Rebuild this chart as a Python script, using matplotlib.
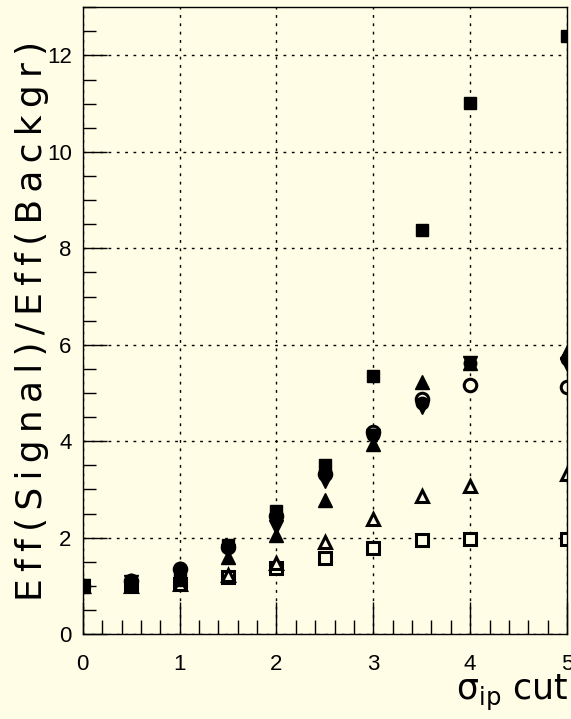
import numpy as np
import matplotlib
matplotlib.use("Agg")
import matplotlib.pyplot as plt
from matplotlib.ticker import MultipleLocator

# ----- data -----
x = [0, 0.5, 1, 1.5, 2, 2.5, 3, 3.5, 4, 5]
filled_square = [1.0, 1.05, 1.15, 1.85, 2.55, 3.5, 5.35, 8.37, 11.02, 12.4]
filled_circle = [1.0, 1.12, 1.38, 1.82, 2.47, 3.33, 4.12, 4.8, 5.62, 5.7]
filled_up = [1.0, 1.05, 1.15, 1.6, 2.05, 2.78, 3.95, 5.22, 5.62, 5.85]
filled_down = [1.0, 1.08, 1.25, 1.72, 2.22, 3.18, 4.1, 4.72, 5.62, 5.6]
open_circle = [1.0, 1.1, 1.35, 1.8, 2.45, 3.33, 4.2, 4.87, 5.17, 5.13]
open_square = [1.0, 1.0, 1.05, 1.18, 1.37, 1.57, 1.79, 1.95, 1.98, 1.98]
open_triangle = [1.0, 1.0, 1.05, 1.22, 1.47, 1.91, 2.38, 2.87, 3.07, 3.33]

ylabel = 'Eff(Signal)/Eff(Backgr)'

bg = '#fffde6'
tick_font = ['Liberation Sans Narrow', 'Liberation Sans', 'DejaVu Sans']

fig = plt.figure(figsize=(5.71, 7.19), dpi=100, facecolor=bg)
ax = fig.add_axes([0.145, 0.118, 0.848, 0.872], facecolor=bg)

# open markers first, filled ones on top
ax.plot(x, open_square, ls='none', marker='s', ms=8, mfc=bg, mec='black', mew=2.2)
ax.plot(x, open_triangle, ls='none', marker='^', ms=9, mfc=bg, mec='black', mew=2.2)
ax.plot(x, open_circle, ls='none', marker='o', ms=9, mfc=bg, mec='black', mew=2.2)
ax.plot(x, filled_square, ls='none', marker='s', ms=9, color='black')
ax.plot(x, filled_circle, ls='none', marker='o', ms=9, color='black')
ax.plot(x, filled_up, ls='none', marker='^', ms=10, color='black')
ax.plot(x, filled_down, ls='none', marker='v', ms=10, color='black')

ax.set_xlim(0, 5)
ax.set_ylim(0, 13)
ax.xaxis.set_major_locator(MultipleLocator(1))
ax.xaxis.set_minor_locator(MultipleLocator(0.2))
ax.yaxis.set_major_locator(MultipleLocator(2))
ax.yaxis.set_minor_locator(MultipleLocator(0.5))
ax.tick_params(axis='x', which='major', direction='in', length=23, width=1, pad=14, labelsize=16)
ax.tick_params(axis='x', which='minor', direction='in', length=10, width=1)
ax.tick_params(axis='y', which='major', direction='in', length=17, width=1, pad=8, labelsize=16)
ax.tick_params(axis='y', which='minor', direction='in', length=9, width=1)
for lab in ax.get_xticklabels() + ax.get_yticklabels():
    lab.set_family(tick_font)

ax.grid(True, which='major', color='black', linestyle=(0, (2, 4)), linewidth=1)
for s in ax.spines.values():
    s.set_linewidth(1)

# PAW spreads the letters out, thin spaces imitate that
ax.set_ylabel('\u2009'.join(ylabel), fontsize=26)
ax.yaxis.set_label_coords(-0.07, 0.5)
fig.text(0.995, 0.008, r'$\mathregular{\sigma_{ip}}$ cut', fontsize=25, ha='right', va='bottom')

fig.savefig('out.png', dpi=100, facecolor=bg)
